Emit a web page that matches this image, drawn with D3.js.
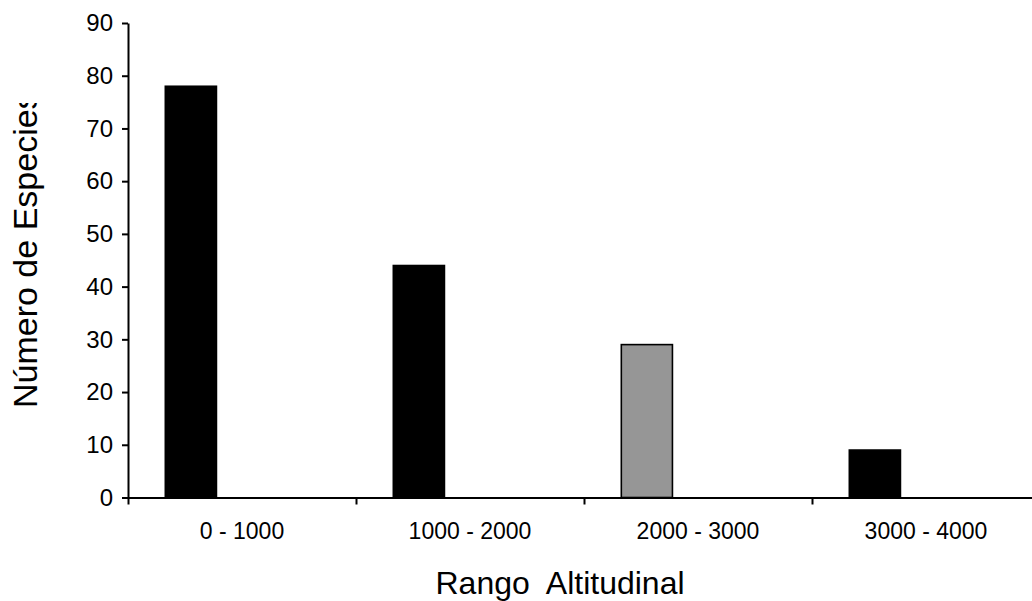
<!DOCTYPE html>
<html>
<head>
<meta charset="utf-8">
<script src="https://cdn.jsdelivr.net/npm/d3@7"></script>
<style>
  body { margin: 0; background: #fff; }
  svg { font-family: "Liberation Sans", Arial, sans-serif; }
</style>
</head>
<body>
<div id="container"></div>
<script>
/* DATA */
const categories = ["0 - 1000", "1000 - 2000", "2000 - 3000", "3000 - 4000"];
const species = [78, 44, 29, 9];
const yTicks = [0, 10, 20, 30, 40, 50, 60, 70, 80, 90];
const highlighted = "2000 - 3000";

/* CONSTANTS AND GLOBALS */
const width = 1032;
const height = 601;
const margin = { top: 23, left: 128, bottom: 103.5 };
const plotRight = 1040; // last band runs past the window edge

const data = categories.map((c, i) => ({ cat: c, value: species[i] }));

/* SCALES */
const xScale = d3.scaleBand()
  .domain(categories)
  .range([margin.left, plotRight])
  .padding(0);

// three slots per category, only the first one is filled
const slot = d3.scaleBand()
  .domain(["a", "b", "c"])
  .range([0, xScale.bandwidth()])
  .paddingInner(0)
  .paddingOuter(0.73);

// index scale for the boundary ticks
const xIndex = d3.scaleLinear()
  .domain([0, categories.length])
  .range([margin.left, plotRight]);

const yScale = d3.scaleLinear()
  .domain([0, 90])
  .range([height - margin.bottom, margin.top]);

const fill = d => d.cat === highlighted ? "#969696" : "#000000";

/* HTML ELEMENTS */
const svg = d3.select("#container")
  .append("svg")
  .attr("width", width)
  .attr("height", height);

svg.append("defs").append("clipPath")
  .attr("id", "ytitle-clip")
  .append("rect")
  .attr("x", 0).attr("y", 103)
  .attr("width", margin.left).attr("height", height);

// bars
svg.selectAll("rect.bar")
  .data(data)
  .join("rect")
  .attr("class", "bar")
  .attr("x", d => xScale(d.cat) + slot("a"))
  .attr("width", slot.bandwidth())
  .attr("y", d => yScale(d.value))
  .attr("height", d => yScale(0) - yScale(d.value))
  .attr("fill", fill)
  .attr("stroke", "#000")
  .attr("stroke-width", 1.6);

// y axis
const yAxis = d3.axisLeft(yScale)
  .tickValues(yTicks)
  .tickSize(6)
  .tickSizeOuter(0)
  .tickPadding(9);

const gy = svg.append("g")
  .attr("transform", `translate(${margin.left},0)`)
  .call(yAxis);
gy.selectAll("text").style("font-size", "24px").attr("fill", "#000");
gy.selectAll("line, path").attr("stroke", "#000").attr("stroke-width", 2);

// x axis with ticks at the category boundaries
const xAxis = d3.axisBottom(xIndex)
  .tickValues(d3.range(categories.length))
  .tickSize(7)
  .tickSizeOuter(0)
  .tickFormat("");

const gx = svg.append("g")
  .attr("transform", `translate(0,${yScale(0)})`)
  .call(xAxis);
gx.selectAll("line, path").attr("stroke", "#000").attr("stroke-width", 2);

// category labels
svg.selectAll("text.cat")
  .data(categories)
  .join("text")
  .attr("class", "cat")
  .attr("x", d => xScale(d) + xScale.bandwidth() / 2)
  .attr("y", 539)
  .attr("text-anchor", "middle")
  .style("font-size", "23px")
  .text(d => d);

// axis titles
svg.append("text")
  .attr("x", 560)
  .attr("y", 594)
  .attr("text-anchor", "middle")
  .style("font-size", "32px")
  .style("white-space", "pre")
  .text("Rango  Altitudinal");

svg.append("g")
  .attr("clip-path", "url(#ytitle-clip)")
  .append("text")
  .attr("transform", "translate(37,408) rotate(-90)")
  .attr("text-anchor", "start")
  .style("font-size", "34px")
  .text("Número de Especies");
</script>
</body>
</html>
